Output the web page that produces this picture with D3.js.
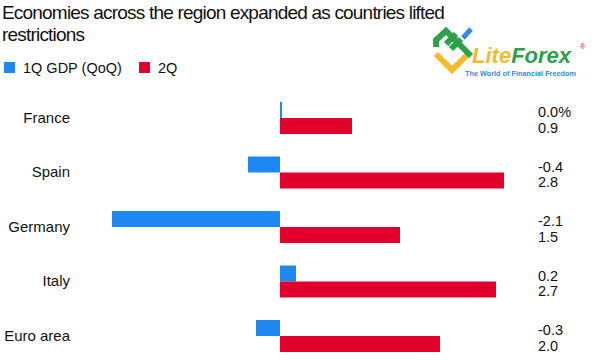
<!DOCTYPE html>
<html lang="en">
<head>
    <meta charset="UTF-8">
    <title>Economies across the region</title>
    <style>
        body { margin: 0; background: #fff; }
        text { font-family: "Liberation Sans", Arial, Helvetica, sans-serif; fill: #111; }
    </style>
</head>
<body>
<svg width="606" height="360"></svg>
<script src="https://cdnjs.cloudflare.com/ajax/libs/d3/7.8.5/d3.min.js"></script>
<script>

    var countries = ["France", "Spain", "Germany", "Italy", "Euro area"];
    var series = ["1Q GDP (QoQ)", "2Q"];
    var q1 = [0.0, -0.4, -2.1, 0.2, -0.3];
    var q2 = [0.9, 2.8, 1.5, 2.7, 2.0];
    var q1Labels = ["0.0%", "-0.4", "-2.1", "0.2", "-0.3"];
    var q2Labels = ["0.9", "2.8", "1.5", "2.7", "2.0"];
    var colors = ["#1e88f0", "#e2002d"];

    var svg = d3.select("svg");

    var xScale = d3.scaleLinear().domain([-2.1, 2.8]).range([112, 504]);
    var yScale = d3.scaleBand().domain(countries).range([102, 352])
        .paddingInner(0.413).paddingOuter(0);
    var sub = d3.scaleBand().domain(series).range([0, yScale.bandwidth()]);

    // title
    svg.append("text").attr("x", 2).attr("y", 19)
        .style("font-size", "19px").style("letter-spacing", "-0.8px")
        .text("Economies across the region expanded as countries lifted");
    svg.append("text").attr("x", 2).attr("y", 41)
        .style("font-size", "19px").style("letter-spacing", "-0.8px")
        .text("restrictions");

    // legend
    var legend = svg.append("g").attr("transform", "translate(4,62)");
    var legX = [0, 135];
    series.forEach(function(s, i) {
        legend.append("rect").attr("x", legX[i]).attr("y", 0)
            .attr("width", 11).attr("height", 11).attr("fill", colors[i]);
        legend.append("text").attr("x", legX[i] + 19).attr("y", 11)
            .style("font-size", "14.5px").text(s);
    });

    var rows = countries.map(function(c, i) {
        return {name: c, values: [q1[i], q2[i]], labels: [q1Labels[i], q2Labels[i]]};
    });

    var g = svg.append("g");
    var row = g.selectAll(".row").data(rows).enter().append("g")
        .attr("class", "row")
        .attr("transform", function(d) { return "translate(0," + yScale(d.name) + ")"; });

    row.selectAll("rect")
        .data(function(d) { return d.values; })
        .enter().append("rect")
        .attr("x", function(v) { return Math.min(xScale(0), xScale(v)); })
        .attr("y", function(v, i) { return sub(series[i]); })
        .attr("width", function(v) { return Math.max(2, Math.abs(xScale(v) - xScale(0))); })
        .attr("height", sub.bandwidth())
        .attr("fill", function(v, i) { return colors[i]; });

    row.append("text")
        .attr("x", 70).attr("y", yScale.bandwidth() / 2 + 5)
        .attr("text-anchor", "end")
        .style("font-size", "15px")
        .text(function(d) { return d.name; });

    row.selectAll(".val")
        .data(function(d) { return d.labels; })
        .enter().append("text")
        .attr("class", "val")
        .attr("x", 538)
        .attr("y", function(l, i) { return sub(series[i]) + 15; })
        .style("font-size", "14.5px")
        .text(function(l) { return l; });

    // logo
    var logo = svg.append("g");
    logo.append("path").attr("d", "M436,54 L452,70 L470,52")
        .attr("fill", "none").attr("stroke", "#f3bb2c").attr("stroke-width", 6);
    logo.append("path").attr("d", "M436,47 L436,40 L446,31 L471,56 M446,44 L456,34 M451,49 L461,39")
        .attr("fill", "none").attr("stroke", "#2ba24a").attr("stroke-width", 6);
    logo.append("path").attr("d", "M463,38 L471,29")
        .attr("fill", "none").attr("stroke", "#2f8de0").attr("stroke-width", 5);
    var lt = logo.append("text").attr("x", 472).attr("y", 63)
        .style("font-size", "22px").style("font-weight", "bold").style("font-style", "italic");
    lt.append("tspan").style("fill", "#f3bb2c").text("Lite");
    lt.append("tspan").style("fill", "#2ba24a").text("Forex");
    logo.append("text").attr("x", 580).attr("y", 49).style("font-size", "7px")
        .style("fill", "#e2002d").text("®");
    logo.append("text").attr("x", 465).attr("y", 76)
        .style("font-size", "7.3px").style("font-weight", "bold").style("fill", "#2f8de0")
        .text("The World of Financial Freedom");
</script>
</body>
</html>
